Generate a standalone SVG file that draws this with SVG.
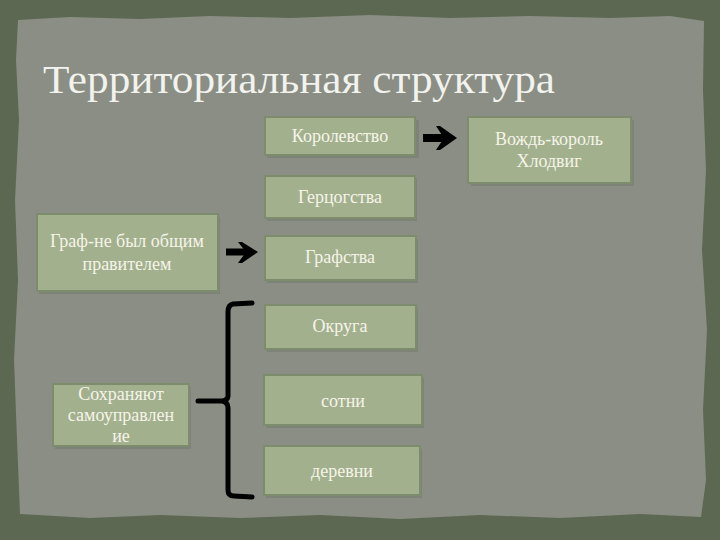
<svg xmlns="http://www.w3.org/2000/svg" width="720" height="540" viewBox="0 0 720 540">
<defs>
<style>
.box{fill:#a2b08e;stroke:#7d8c6c;stroke-width:2}
.shadow{fill:#6f7868;opacity:0.5}
.t{font-family:"Liberation Serif","DejaVu Serif",serif;font-size:18px;fill:#f6f4e8;text-anchor:middle}
.br{fill:none;stroke:#000;stroke-width:5;stroke-linecap:round;stroke-linejoin:round}
</style>
</defs>
<rect x="0" y="0" width="720" height="540" fill="#5d6852"/>
<path d="M18 20 L70 17 L140 19 L210 16 L290 18 L370 15 L450 18 L530 16 L610 18 L670 16 L704 21 L703 90 L706 170 L702 250 L707 330 L703 410 L706 480 L701 517 L640 514 L560 518 L480 515 L400 519 L320 515 L240 518 L160 515 L90 518 L20 514 L17 440 L14 360 L18 280 L15 200 L19 120 L16 60 Z" fill="#8a8e84"/>
<text x="43" y="93" font-family="'Liberation Serif','DejaVu Serif',serif" font-size="40" fill="#f2f2ee" textLength="512" lengthAdjust="spacingAndGlyphs">Территориальная структура</text>
<g id="n-korolevstvo"><rect class="shadow" x="267" y="120" width="152" height="38"/><rect class="box" x="265" y="117" width="150" height="38"/><text class="t" x="340" y="142">Королевство</text></g>
<g id="n-vozhd"><rect class="shadow" x="471" y="120" width="163" height="66"/><rect class="box" x="468" y="117" width="163" height="66"/><text class="t" x="549" y="145">Вождь-король</text><text class="t" x="549" y="167">Хлодвиг</text></g>
<g id="n-gertsog"><rect class="shadow" x="267" y="179" width="150" height="42"/><rect class="box" x="265" y="176" width="150" height="42"/><text class="t" x="340" y="203">Герцогства</text></g>
<g id="n-graf"><rect class="shadow" x="39" y="217" width="181" height="77"/><rect class="box" x="37" y="214" width="181" height="77"/><text class="t" x="127" y="247">Граф-не был общим</text><text class="t" x="127" y="270">правителем</text></g>
<g id="n-grafstva"><rect class="shadow" x="267" y="239" width="151" height="44"/><rect class="box" x="265" y="236" width="151" height="44"/><text class="t" x="340" y="263">Графства</text></g>
<g id="n-okruga"><rect class="shadow" x="267" y="308" width="151" height="44"/><rect class="box" x="265" y="305" width="151" height="44"/><text class="t" x="340" y="332">Округа</text></g>
<g id="n-sotni"><rect class="shadow" x="266" y="378" width="158" height="50"/><rect class="box" x="264" y="375" width="158" height="50"/><text class="t" x="343" y="407">сотни</text></g>
<g id="n-derevni"><rect class="shadow" x="266" y="449" width="156" height="49"/><rect class="box" x="264" y="446" width="156" height="49"/><text class="t" x="342" y="477">деревни</text></g>
<g id="n-sokhr"><rect class="shadow" x="55" y="387" width="136" height="62"/><rect class="box" x="53" y="384" width="136" height="62"/><text class="t" x="121" y="400">Сохраняют</text><text class="t" x="121" y="421">самоуправлен</text><text class="t" x="121" y="442">ие</text></g>
<g id="connectors">
<line x1="423" y1="138" x2="444" y2="138" stroke="#000" stroke-width="8"/>
<polygon points="440,126 457,138 440,150 436,150 444,138 436,126" fill="#000"/>
<line x1="226" y1="252" x2="246" y2="252" stroke="#000" stroke-width="7"/>
<polygon points="242,242 258,252 242,263 238,263 246,252 238,242" fill="#000"/>
<path class="br" d="M252 303 L233 304 Q228 305 228 312 L228 396 Q228 400 222 401 L198 401 M222 401 Q228 402 228 408 L228 490 Q228 496 234 496 L252 497"/>
</g>
</svg>
